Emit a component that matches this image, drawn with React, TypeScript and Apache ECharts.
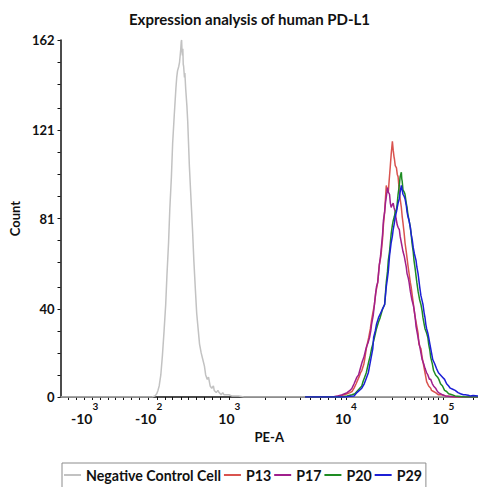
import React, { useEffect, useRef } from "react";
import * as echarts from "echarts";

// Display channel units (biexponential PE-A display scale, 0..1024)
const xMin = 0;
const xMax = 1024;
const yMax = 162;

const xMajorTicks = [59, 216, 414, 700, 939];
const xTickBase = ["-10", "-10", "10", "10", "10"];
const xTickExp = ["3", "2", "3", "4", "5"];
const xMinorTicks = [
  19, 39, 77, 97, 116, 135, 155, 174, 193, 237, 256, 275, 295, 314, 333, 353, 372, 391,
  502, 551, 587, 613, 638, 657, 674, 688, 773, 814, 845, 867, 886, 903, 915, 927, 1012,
];

const yLabels = [0, 40, 81, 121, 162];
const yMinorTicks = [10, 20, 30, 50, 61, 71, 91, 101, 111, 131, 142, 152];

const seriesNames = ["Negative Control Cell", "P13", "P17", "P20", "P29"];
const seriesColors = ["#c2c2c2", "#d9534f", "#a01f8c", "#1e8c23", "#1c1fd6"];

const negativeControl = [
  [0, 0], [150, 0], [225, 0], [232, 0.5], [236, 1.5], [239, 3], [242, 5], [246, 10], [250, 19],
  [254, 30], [258, 42], [261, 55], [265, 70], [268, 85], [272, 100], [275, 115], [279, 128],
  [283, 140], [285, 145], [287, 148], [290, 150], [292, 152], [294, 156], [295, 158], [296, 161],
  [297, 162], [298, 157], [299, 155], [300, 158], [301, 151], [302, 150], [304, 145], [305, 147],
  [307, 140], [310, 132], [312, 125], [314, 115], [316, 105], [320, 90], [324, 75], [327, 62],
  [331, 48], [334, 38], [338, 30], [341, 24], [345, 20], [349, 17], [353, 14], [356, 10], [360, 8],
  [363, 9], [367, 5], [371, 4], [375, 5], [377, 3], [382, 2], [386, 3], [389, 2], [394, 1], [398, 2],
  [401, 1], [407, 1], [413, 1], [420, 0.5], [437, 0.5], [450, 0], [1024, 0],
];

const p13 = [
  [600, 0], [667, 0], [686, 0.5], [696, 1], [703, 1.5], [710, 2], [715, 2.5], [720, 4], [725, 6],
  [732, 9], [736, 11], [739, 12], [744, 15], [746, 17], [750, 22], [756, 27], [760, 31], [763, 35],
  [766, 38], [770, 42], [773, 47], [778, 52], [780, 56], [782, 60], [785, 63], [787, 66], [790, 72],
  [792, 78], [795, 84], [797, 90], [799, 96], [801, 94], [804, 93], [806, 98], [809, 105], [811, 110],
  [814, 116], [816, 112], [818, 109], [819, 108], [821, 105], [824, 104], [826, 101], [828, 100],
  [831, 93], [833, 90], [836, 86], [838, 82], [840, 79], [843, 74], [845, 70], [848, 66], [850, 63],
  [852, 60], [855, 56], [858, 52], [860, 50], [865, 43], [867, 40], [870, 36], [874, 32], [877, 29],
  [879, 24], [881, 23], [884, 22], [887, 18], [889, 16], [891, 14], [894, 11], [896, 9], [898, 7],
  [903, 5], [908, 4], [910, 3], [915, 2.5], [920, 2], [927, 1], [935, 1], [944, 0.5], [968, 0], [1024, 0],
];

const p17 = [
  [600, 0], [667, 0], [680, 0.5], [691, 1], [697, 1.5], [703, 2], [710, 3], [715, 4], [720, 6],
  [727, 9], [731, 10], [734, 12], [740, 16], [744, 18], [748, 21], [751, 23], [755, 25], [758, 27],
  [761, 30], [763, 33], [767, 37], [770, 42], [773, 47], [775, 50], [778, 52], [780, 56], [782, 60],
  [785, 64], [787, 68], [790, 74], [792, 80], [795, 84], [797, 88], [800, 92], [802, 95], [804, 93],
  [807, 92], [809, 88], [811, 86], [813, 87], [816, 88], [818, 86], [821, 84], [823, 81], [826, 78],
  [828, 77], [831, 76], [833, 73], [836, 70], [838, 68], [840, 66], [843, 64], [845, 62], [848, 59],
  [850, 56], [853, 54], [855, 52], [858, 48], [862, 44], [865, 42], [867, 40], [870, 36], [872, 32],
  [875, 29], [877, 27], [880, 24], [884, 20], [887, 17], [891, 15], [894, 13], [898, 11], [901, 10],
  [905, 8], [908, 8], [912, 6], [915, 5], [920, 4], [923, 3], [927, 2], [932, 1.5], [937, 1],
  [944, 0.5], [968, 0], [1024, 0],
];

const p20 = [
  [600, 0], [690, 0], [703, 0.5], [715, 1], [722, 1.5], [729, 3], [734, 4], [739, 5], [742, 7],
  [746, 9], [750, 11], [756, 16], [760, 19], [763, 22], [766, 24], [770, 27], [775, 31], [780, 34],
  [784, 36], [787, 38], [790, 40], [795, 42], [797, 47], [799, 52], [802, 57], [804, 62], [807, 66],
  [809, 70], [811, 74], [814, 78], [816, 80], [819, 82], [821, 84], [824, 85], [826, 88], [828, 92],
  [831, 96], [833, 100], [836, 102], [837, 99], [838, 98], [840, 94], [843, 93], [845, 92], [848, 88],
  [850, 86], [852, 83], [855, 80], [858, 77], [860, 74], [862, 70], [865, 66], [867, 62], [870, 58],
  [872, 55], [874, 52], [877, 48], [881, 44], [884, 42], [887, 39], [889, 36], [892, 33], [894, 31],
  [898, 29], [901, 27], [903, 24], [906, 21], [908, 18], [912, 15], [915, 12], [920, 10], [925, 9],
  [928, 8], [932, 6], [937, 5], [942, 3], [947, 2.5], [952, 1.5], [960, 1], [968, 0.5], [993, 0], [1024, 0],
];

const p29 = [
  [600, 0], [700, 0], [710, 0.3], [720, 0.5], [727, 2], [733, 3], [739, 4], [745, 6], [751, 9],
  [755, 11], [758, 14], [762, 18], [766, 22], [768, 27], [772, 30], [775, 33], [780, 36], [785, 38],
  [790, 40], [795, 42], [797, 46], [799, 50], [802, 54], [804, 57], [807, 64], [809, 67], [811, 70],
  [814, 73], [816, 76], [819, 79], [821, 82], [824, 84], [826, 86], [828, 88], [831, 90], [833, 93],
  [836, 96], [838, 94], [840, 92], [843, 91], [845, 90], [848, 87], [850, 84], [852, 82], [855, 80],
  [858, 77], [860, 74], [863, 71], [865, 68], [868, 65], [872, 62], [874, 59], [877, 56], [879, 53],
  [881, 50], [884, 46], [889, 42], [892, 38], [894, 36], [896, 33], [898, 31], [901, 29], [903, 27],
  [906, 24], [910, 20], [913, 17], [918, 15], [922, 13], [927, 11], [932, 10], [937, 9], [942, 8],
  [947, 6], [952, 5], [956, 4], [962, 3.5], [968, 3], [975, 2], [981, 1.5], [988, 1], [993, 1],
  [1000, 0.8], [1005, 0.5], [1012, 0.7], [1024, 0.5],
];

const seriesData = [negativeControl, p13, p17, p20, p29];

const FONT = "Lato, 'Open Sans', sans-serif";

export default function App() {
  const ref = useRef<HTMLDivElement>(null);
  useEffect(() => {
    if (!ref.current) return;
    const chart = echarts.init(ref.current, undefined, { renderer: "svg" });
    const allXTicks = [...xMajorTicks, ...xMinorTicks].sort((a, b) => a - b);
    const allYTicks = [...yLabels, ...yMinorTicks].sort((a, b) => a - b);
    chart.setOption({
      animation: false,
      backgroundColor: "#ffffff",
      textStyle: { fontFamily: FONT },
      title: {
        text: "Expression analysis of human PD-L1",
        left: 124,
        top: 6,
        textStyle: { fontFamily: FONT, fontSize: 15, fontWeight: "bold", color: "#111" },
      },
      legend: {
        left: 62,
        top: 463,
        padding: [5, 4, 6, 2],
        icon: "rect",
        itemWidth: 17,
        itemHeight: 2,
        itemGap: 3,
        borderColor: "#8c8c8c",
        borderWidth: 1,
        data: seriesNames,
        textStyle: { fontFamily: FONT, fontSize: 14.2, fontWeight: "bold", color: "#111" },
      },
      grid: { left: 54, right: 0, top: 40, bottom: 90, containLabel: false },
      xAxis: {
        type: "value",
        min: xMin,
        max: xMax,
        name: "PE-A",
        nameLocation: "middle",
        nameGap: 33,
        nameTextStyle: { fontFamily: FONT, fontSize: 13, fontWeight: "bold", color: "#111" },
        splitLine: { show: false },
        axisLine: { show: true, onZero: false, lineStyle: { color: "#111", width: 1.5 } },
        axisTick: { show: true, customValues: allXTicks, length: 3, lineStyle: { color: "#111" } },
        axisLabel: {
          customValues: xMajorTicks,
          margin: 4,
          formatter: (v: number) => {
            const i = xMajorTicks.indexOf(Math.round(v));
            if (i < 0) return "";
            return `{b|${xTickBase[i]}}{s|${xTickExp[i]}}`;
          },
          rich: {
            b: { fontFamily: FONT, fontSize: 14, fontWeight: "bold", color: "#111", lineHeight: 34, verticalAlign: "middle" },
            s: { fontFamily: FONT, fontSize: 10, fontWeight: "bold", color: "#111", lineHeight: 12, verticalAlign: "top" },
          },
        },
      },
      yAxis: {
        type: "value",
        min: 0,
        max: yMax,
        name: "Count",
        nameLocation: "middle",
        nameGap: 33,
        nameRotate: 90,
        nameTextStyle: { fontFamily: FONT, fontSize: 13, fontWeight: "bold", color: "#111" },
        splitLine: { show: false },
        axisLine: { show: true, lineStyle: { color: "#111", width: 1.5 } },
        axisTick: { show: true, customValues: allYTicks, length: 3, lineStyle: { color: "#111" } },
        axisLabel: {
          customValues: yLabels,
          margin: 6,
          fontFamily: FONT,
          fontSize: 13,
          fontWeight: "bold",
          color: "#111",
        },
      },
      series: seriesNames.map((name, i) => ({
        name,
        type: "line",
        data: seriesData[i],
        symbol: "none",
        color: seriesColors[i],
        lineStyle: { color: seriesColors[i], width: 1.5 },
        z: 2 + i,
      })),
    });
    return () => chart.dispose();
  }, []);
  return (
    <div
      ref={ref}
      style={{ position: "fixed", left: 0, top: 0, width: 478, height: 487, background: "#fff" }}
    />
  );
}
